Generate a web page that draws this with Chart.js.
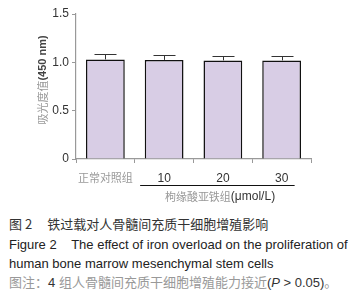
<!DOCTYPE html>
<html>
<head>
<meta charset="utf-8">
<script src="https://cdn.jsdelivr.net/npm/chart.js@4/dist/chart.umd.min.js"></script>
<style>
  body { margin: 0; background: #fff; font-family: "Liberation Sans", Arial, "Noto Sans CJK SC", sans-serif; }
  #wrap { position: relative; width: 359px; height: 304px; overflow: hidden; }
  #box { position: absolute; left: 0; top: 0; width: 359px; height: 205px; }
  .cap { position: absolute; left: 9px; font-size: 13px; white-space: nowrap; line-height: 16px; }
  .cn { font-family: "Noto Sans CJK SC", sans-serif; }
</style>
</head>
<body>
<div id="wrap">
  <div id="box"><canvas id="chart"></canvas></div>
  <div class="cap cn" style="top:216px;color:#333;">图 2<span style="display:inline-block;width:15px"></span>铁过载对人骨髓间充质干细胞增殖影响</div>
  <div class="cap" style="top:237px;color:#222;">Figure 2&nbsp;&nbsp;&nbsp;&nbsp;The effect of iron overload on the proliferation of</div>
  <div class="cap" style="top:256px;color:#222;">human bone marrow mesenchymal stem cells</div>
  <div class="cap" style="top:274px;color:#999;"><span class="cn">图注：</span><span style="color:#333">4</span> <span class="cn">组人骨髓间充质干细胞增殖能力接近</span><span style="color:#333">(<i>P</i> &gt; 0.05)</span>。</div>
</div>
<script>
// data
var groups = ['正常对照组', '10', '20', '30'];
var meanOD = [1.03, 1.025, 1.02, 1.02];
var sdOD = [0.055, 0.055, 0.05, 0.05];
var yTicks = [0, 0.5, 1.0, 1.5];

// error bars (upper only), underline + group title, y title
var extras = {
    id: 'extras',
    afterDatasetsDraw: function(chart) {
        var c = chart.ctx, xs = chart.scales.x, ys = chart.scales.y;
        c.save();
        c.strokeStyle = '#333';
        c.lineWidth = 1;
        for (var i in meanOD) {
            var x = Math.round(xs.getPixelForValue(+i)) + 0.5;
            var yTop = ys.getPixelForValue(meanOD[i]);
            var yErr = Math.round(ys.getPixelForValue(meanOD[i] + sdOD[i])) + 0.5;
            c.beginPath();
            c.moveTo(x, yTop);
            c.lineTo(x, yErr);
            c.moveTo(x - 11, yErr);
            c.lineTo(x + 11, yErr);
            c.stroke();
        }
        c.restore();
    },
    afterDraw: function(chart) {
        var c = chart.ctx, xs = chart.scales.x, ys = chart.scales.y;
        c.save();
        // line under the iron groups
        var x1 = xs.getPixelForValue(1) - 24, x2 = xs.getPixelForValue(3) + 13;
        c.strokeStyle = '#111';
        c.lineWidth = 1.2;
        c.beginPath();
        c.moveTo(x1, 185.5);
        c.lineTo(x2, 185.5);
        c.stroke();
        // group title
        c.textBaseline = 'middle';
        var t1 = '枸缘酸亚铁组', t2 = '(μmol/L)';
        c.font = '11px "Noto Sans CJK SC", sans-serif';
        var w1 = c.measureText(t1).width;
        c.font = '12px "Liberation Sans", Arial, sans-serif';
        var w2 = c.measureText(t2).width;
        var sx = 220 - (w1 + w2) / 2;
        c.fillStyle = '#999';
        c.font = '11px "Noto Sans CJK SC", sans-serif';
        c.fillText(t1, sx, 197);
        c.fillStyle = '#333';
        c.font = '12px "Liberation Sans", Arial, sans-serif';
        c.fillText(t2, sx + w1, 197);
        // y title
        c.translate(43, 80);
        c.rotate(-Math.PI / 2);
        var a = '吸光度值', b = '(450 nm)';
        c.font = '11px "Noto Sans CJK SC", sans-serif';
        var wa = c.measureText(a).width;
        c.font = 'bold 11px "Liberation Sans", Arial, sans-serif';
        var wb = c.measureText(b).width;
        var s = -(wa + wb) / 2;
        c.fillStyle = '#999';
        c.font = '11px "Noto Sans CJK SC", sans-serif';
        c.fillText(a, s, 0);
        c.fillStyle = '#444';
        c.font = 'bold 11px "Liberation Sans", Arial, sans-serif';
        c.fillText(b, s + wa, 0);
        c.restore();
    }
};

var ctx = document.getElementById('chart');
var odChart = new Chart(ctx, {
    type: 'bar',
    data: {
        labels: groups,
        datasets: [{
            data: meanOD,
            backgroundColor: '#d8cde5',
            borderColor: '#111',
            borderWidth: 1.5,
            borderSkipped: 'bottom',
            barPercentage: 0.66,
            categoryPercentage: 1
        }]
    },
    options: {
        responsive: true,
        maintainAspectRatio: false,
        animation: false,
        layout: { padding: { top: 14, right: 48, bottom: 0, left: 0 } },
        plugins: { legend: { display: false }, tooltip: { enabled: false } },
        scales: {
            x: {
                grid: { drawOnChartArea: false, drawTicks: true, tickLength: 4, color: '#999' },
                border: { color: '#999', width: 1.2 },
                ticks: {
                    padding: 8,
                    maxRotation: 0,
                    minRotation: 0,
                    autoSkip: false,
                    color: function(c) { return c.index === 0 ? '#999' : '#333'; },
                    font: function(c) {
                        return c.index === 0
                            ? { family: '"Noto Sans CJK SC", sans-serif', size: 11 }
                            : { family: '"Liberation Sans", Arial, sans-serif', size: 12 };
                    }
                },
                afterFit: function(s) { s.height = 46; }
            },
            y: {
                min: 0, max: 1.5,
                afterBuildTicks: function(s) { s.ticks = yTicks.map(function(v) { return { value: v }; }); },
                grid: { drawOnChartArea: false, drawTicks: true, tickLength: 4, color: '#999' },
                border: { color: '#999', width: 1.2 },
                ticks: {
                    padding: 3,
                    color: '#333',
                    font: { family: '"Liberation Sans", Arial, sans-serif', size: 12 },
                    callback: function(v) { return v === 0 ? '0' : v.toFixed(1); }
                },
                afterFit: function(s) { s.width = 76; }
            }
        }
    },
    plugins: [extras]
});
</script>
</body>
</html>
